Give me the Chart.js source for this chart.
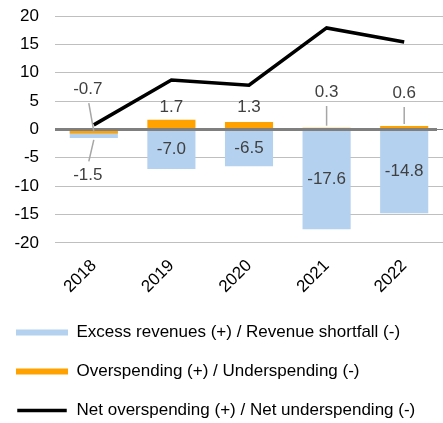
<!DOCTYPE html>
<html>
<head>
<meta charset="utf-8">
<script src="https://cdn.jsdelivr.net/npm/chart.js@4.4.1/dist/chart.umd.min.js"></script>
<style>
  html, body { margin: 0; padding: 0; background: #ffffff; }
  #wrap { width: 443px; height: 423px; }
</style>
</head>
<body>
<div id="wrap"><canvas id="budgetChart"></canvas></div>
<script>
const years = ['2018', '2019', '2020', '2021', '2022'];
const revenueGap = [-1.5, -7.0, -6.5, -17.6, -14.8];
const spendingGap = [-0.7, 1.7, 1.3, 0.3, 0.6];
const netSpending = [0.8, 8.7, 7.8, 17.9, 15.4];
const yMin = -20;
const yMax = 20;
const yStep = 5;

// where the data labels sit, in axis units (null = middle of bar)
const spendingLabelAt = [7.1, 3.9, 3.9, 6.6, 6.4];
const spendingLeader = [true, false, false, true, true];
const revenueLabelAt = [-8.1, null, null, null, null];
const revenueLeader = [true, false, false, false, false];

const FONT = '"Liberation Sans", Arial, sans-serif';

const labelPlugin = {
    id: 'labelPlugin',
    afterDatasetsDraw(chart) {
        const ctx = chart.ctx;
        const x = chart.scales.x;
        const y = chart.scales.y;
        const area = chart.chartArea;

        // zero line goes over the bars
        const y0 = y.getPixelForValue(0);
        ctx.save();
        ctx.strokeStyle = '#7f7f7f';
        ctx.lineWidth = 3;
        ctx.beginPath();
        ctx.moveTo(area.left, y0);
        ctx.lineTo(area.right - 6, y0);
        ctx.stroke();

        ctx.font = '17px ' + FONT;
        ctx.fillStyle = '#404040';
        ctx.textAlign = 'center';
        ctx.textBaseline = 'middle';
        ctx.strokeStyle = '#a6a6a6';
        ctx.lineWidth = 1.5;

        function put(values, at, leader) {
            values.forEach(function(v, i) {
                const cx = x.getPixelForValue(i);
                const end = y.getPixelForValue(v);
                const pos = at[i] === null ? v / 2 : at[i];
                const ly = y.getPixelForValue(pos);
                const lx = leader[i] && i === 0 ? cx - 6 : cx;
                if (leader[i]) {
                    const dir = ly < end ? 1 : -1;
                    ctx.beginPath();
                    ctx.moveTo(i === 0 ? lx + 1 : lx, ly + dir * 14);
                    ctx.lineTo(cx, end - dir * 2);
                    ctx.stroke();
                }
                ctx.fillText(v.toFixed(1), lx, ly);
            });
        }
        put(spendingGap, spendingLabelAt, spendingLeader);
        put(revenueGap, revenueLabelAt, revenueLeader);
        ctx.restore();
    }
};

const chart = new Chart(document.getElementById('budgetChart'), {
    type: 'bar',
    data: {
        labels: years,
        datasets: [
            {
                label: 'Excess revenues (+) / Revenue shortfall (-)',
                data: revenueGap,
                backgroundColor: '#b4d1ef',
                borderWidth: 0,
                grouped: false,
                barPercentage: 0.62,
                categoryPercentage: 1,
                order: 3
            },
            {
                label: 'Overspending (+) / Underspending (-)',
                data: spendingGap,
                backgroundColor: '#ffa200',
                borderWidth: 0,
                grouped: false,
                barPercentage: 0.62,
                categoryPercentage: 1,
                order: 2
            },
            {
                type: 'line',
                label: 'Net overspending (+) / Net underspending (-)',
                data: netSpending,
                borderColor: '#000000',
                backgroundColor: '#000000',
                borderWidth: 3.5,
                pointRadius: 0,
                tension: 0,
                order: 1
            }
        ]
    },
    options: {
        responsive: true,
        maintainAspectRatio: false,
        animation: false,
        layout: {
            padding: { left: -6, right: 0, top: 16, bottom: -6 }
        },
        plugins: {
            tooltip: { enabled: false },
            legend: {
                position: 'bottom',
                align: 'start',
                labels: {
                    boxWidth: 52,
                    boxHeight: 6,
                    padding: 22,
                    color: '#000000',
                    font: { family: FONT, size: 17 },
                    sort: function(a, b) { return a.datasetIndex - b.datasetIndex; },
                    generateLabels: function(c) {
                        const items = Chart.defaults.plugins.legend.labels.generateLabels(c);
                        items.forEach(function(it) {
                            if (it.datasetIndex === 2) {
                                it.fillStyle = '#000000';
                                it.strokeStyle = '#ffffff';
                                it.lineWidth = 2.5;
                            } else {
                                it.lineWidth = 0;
                            }
                        });
                        return items;
                    }
                }
            }
        },
        scales: {
            x: {
                grid: { display: false },
                border: { display: false },
                ticks: {
                    color: '#000000',
                    font: { family: FONT, size: 17 },
                    minRotation: 45,
                    maxRotation: 45,
                    padding: 5
                }
            },
            y: {
                min: yMin,
                max: yMax,
                afterFit: function(scale) {
                    scale.width = 61;
                    scale.paddingTop = 8;
                    scale.paddingBottom = 8;
                },
                border: { display: false },
                grid: {
                    color: function(c) { return c.tick && c.tick.value === 0 ? '#7f7f7f' : '#bfbfbf'; },
                    lineWidth: 1,
                    drawTicks: false
                },
                ticks: {
                    stepSize: yStep,
                    color: '#000000',
                    padding: 16,
                    font: { family: FONT, size: 17 }
                }
            }
        }
    },
    plugins: [labelPlugin]
});
</script>
</body>
</html>
